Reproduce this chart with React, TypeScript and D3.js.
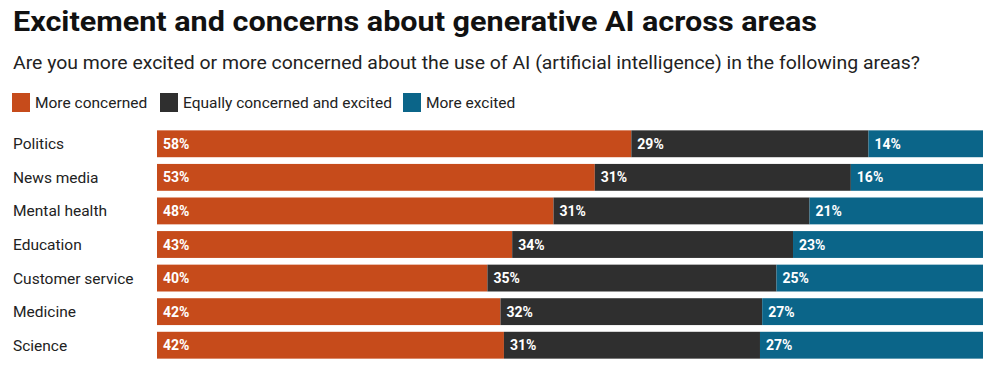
import React from 'react';
import * as d3 from 'd3';

const categories = ['Politics', 'News media', 'Mental health', 'Education', 'Customer service', 'Medicine', 'Science'];
const moreConcerned = [58, 53, 48, 43, 40, 42, 42];
const equallyBoth = [29, 31, 31, 34, 35, 32, 31];
const moreExcited = [14, 16, 21, 23, 25, 27, 27];

const seriesNames = ['More concerned', 'Equally concerned and excited', 'More excited'];
const seriesColors = ['#c64b1b', '#2f2f2f', '#0b6589'];

const W = 1000;
const H = 384;
const FONT = 'Roboto, "Noto Sans", sans-serif';

const App = () => {
  const rows = categories.map((c, i) => {
    const vals = [moreConcerned[i], equallyBoth[i], moreExcited[i]];
    return { name: c, vals, total: d3.sum(vals) };
  });

  const y = d3.scaleBand<string>()
    .domain(categories)
    .range([127, 362])
    .paddingInner(0.2)
    .paddingOuter(0.1);

  const left = 157;
  const right = 983;

  const legendX = [12, 160, 403];

  return (
    <svg width={W} height={H} style={{ position: 'absolute', left: 0, top: 0, background: '#fff' }} fontFamily={FONT}>
      <text x={13} y={31} fontSize={28} fontWeight={700} fill="#111" textLength={804} lengthAdjust="spacingAndGlyphs">
        Excitement and concerns about generative AI across areas
      </text>
      <text x={13} y={69} fontSize={18} fill="#222" textLength={907} lengthAdjust="spacingAndGlyphs">
        Are you more excited or more concerned about the use of AI (artificial intelligence) in the following areas?
      </text>
      {seriesNames.map((s, i) => (
        <g key={s} transform={`translate(${legendX[i]},93)`}>
          <rect width={18} height={19} fill={seriesColors[i]} />
          <text x={23} y={14.5} fontSize={15.5} fill="#222">{s}</text>
        </g>
      ))}
      {rows.map(r => {
        const x = d3.scaleLinear().domain([0, r.total]).range([left, right]);
        const by = y(r.name) as number;
        let acc = 0;
        return (
          <g key={r.name}>
            <text x={13} y={by + y.bandwidth() / 2 + 5.5} fontSize={15.5} fill="#222">{r.name}</text>
            {r.vals.map((v, j) => {
              const x0 = x(acc);
              acc += v;
              const x1 = x(acc);
              return (
                <g key={j}>
                  <rect x={x0} y={by} width={x1 - x0} height={y.bandwidth()} fill={seriesColors[j]} />
                  <text x={x0 + 6} y={by + y.bandwidth() / 2 + 5} fontSize={14} fontWeight={700} fill="#fff">{v}%</text>
                </g>
              );
            })}
          </g>
        );
      })}
    </svg>
  );
};

export default App;
